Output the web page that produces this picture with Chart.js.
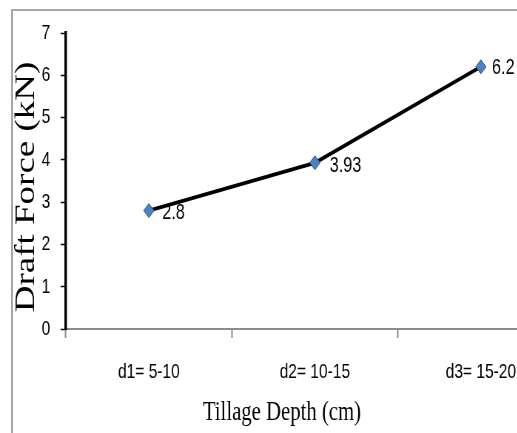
<!DOCTYPE html>
<html><head><meta charset="utf-8">
<script src="https://cdn.jsdelivr.net/npm/chart.js@4"></script>
<style>
html,body{margin:0;padding:0;background:#fff;overflow:hidden;width:517px;height:433px;}
#wrap{position:absolute;left:0;top:0;width:780px;height:433px;transform:scaleX(0.74);transform-origin:0 0;}
#frame{position:absolute;left:11px;top:9px;right:-10px;bottom:-10px;border-top:2px solid #a6a6a6;border-left:2px solid #a6a6a6;pointer-events:none;}
</style></head><body>
<div id="wrap"><canvas id="c" width="780" height="433"></canvas></div>
<div id="frame"></div>
<script>
const categories = ['d1= 5-10', 'd2= 10-15', 'd3= 15-20'];
const draftForce = [2.8, 3.93, 6.2];
const yTicks = [0, 1, 2, 3, 4, 5, 6, 7];
const xTitle = 'Tillage Depth (cm)';
const yTitle = 'Draft Force (kN)';

const labelDx = [18, 20, 15];
const labelDy = [2, 3, 1];

const valueLabels = {
  id: 'valueLabels',
  afterDatasetsDraw(chart) {
    const ctx = chart.ctx;
    const meta = chart.getDatasetMeta(0);
    ctx.save();
    ctx.font = '22px "Liberation Sans"';
    ctx.fillStyle = '#000';
    ctx.textAlign = 'left';
    ctx.textBaseline = 'middle';
    meta.data.forEach((pt, i) => {
      ctx.fillText(String(draftForce[i]), pt.x + labelDx[i], pt.y + labelDy[i]);
    });
    ctx.restore();
  }
};

const axisTitles = {
  id: 'axisTitles',
  afterDraw(chart) {
    const ctx = chart.ctx;
    const a = chart.chartArea;
    ctx.save();
    ctx.fillStyle = '#000';
    ctx.textAlign = 'center';
    ctx.textBaseline = 'middle';
    ctx.font = '28px "Liberation Serif"';
    ctx.fillText(xTitle, a.left + 292, 413);
    ctx.translate(36.5, (a.top + a.bottom) / 2 + 6);
    ctx.rotate(-Math.PI / 2);
    ctx.font = '37px "Liberation Serif"';
    ctx.fillText(yTitle, 0, 0);
    ctx.restore();
  }
};

new Chart(document.getElementById('c'), {
  type: 'line',
  data: {
    labels: categories,
    datasets: [{
      data: draftForce,
      borderColor: '#000',
      borderWidth: 3.8,
      tension: 0,
      fill: false,
      pointStyle: 'rectRot',
      pointRadius: 7,
      pointBackgroundColor: '#4f81bd',
      pointBorderColor: '#2c4d75',
      pointBorderWidth: 1
    }]
  },
  options: {
    responsive: false,
    animation: false,
    layout: { padding: { top: 33, right: 18, left: 0, bottom: 0 } },
    plugins: { legend: { display: false }, tooltip: { enabled: false } },
    scales: {
      x: {
        type: 'category',
        offset: true,
        grid: { display: true, offset: true, drawOnChartArea: false, tickLength: 9, tickColor: '#8c8c8c', tickWidth: 2 },
        border: { color: '#8c8c8c', width: 2 },
        ticks: { color: '#000', font: { family: 'Liberation Sans', size: 21 }, padding: 22, maxRotation: 0, autoSkip: false },
        afterFit(s) { s.height = 104; }
      },
      y: {
        min: 0,
        max: 7,
        afterBuildTicks(s) { s.ticks = yTicks.map(v => ({ value: v })); },
        grid: { drawOnChartArea: false, tickLength: 7, tickColor: '#000', tickWidth: 1.5 },
        border: { color: '#000', width: 3.4 },
        ticks: { color: '#000', font: { family: 'Liberation Sans', size: 21 }, padding: 14 },
        afterFit(s) { s.width = 89; }
      }
    }
  },
  plugins: [valueLabels, axisTitles]
});
</script>
</body></html>
